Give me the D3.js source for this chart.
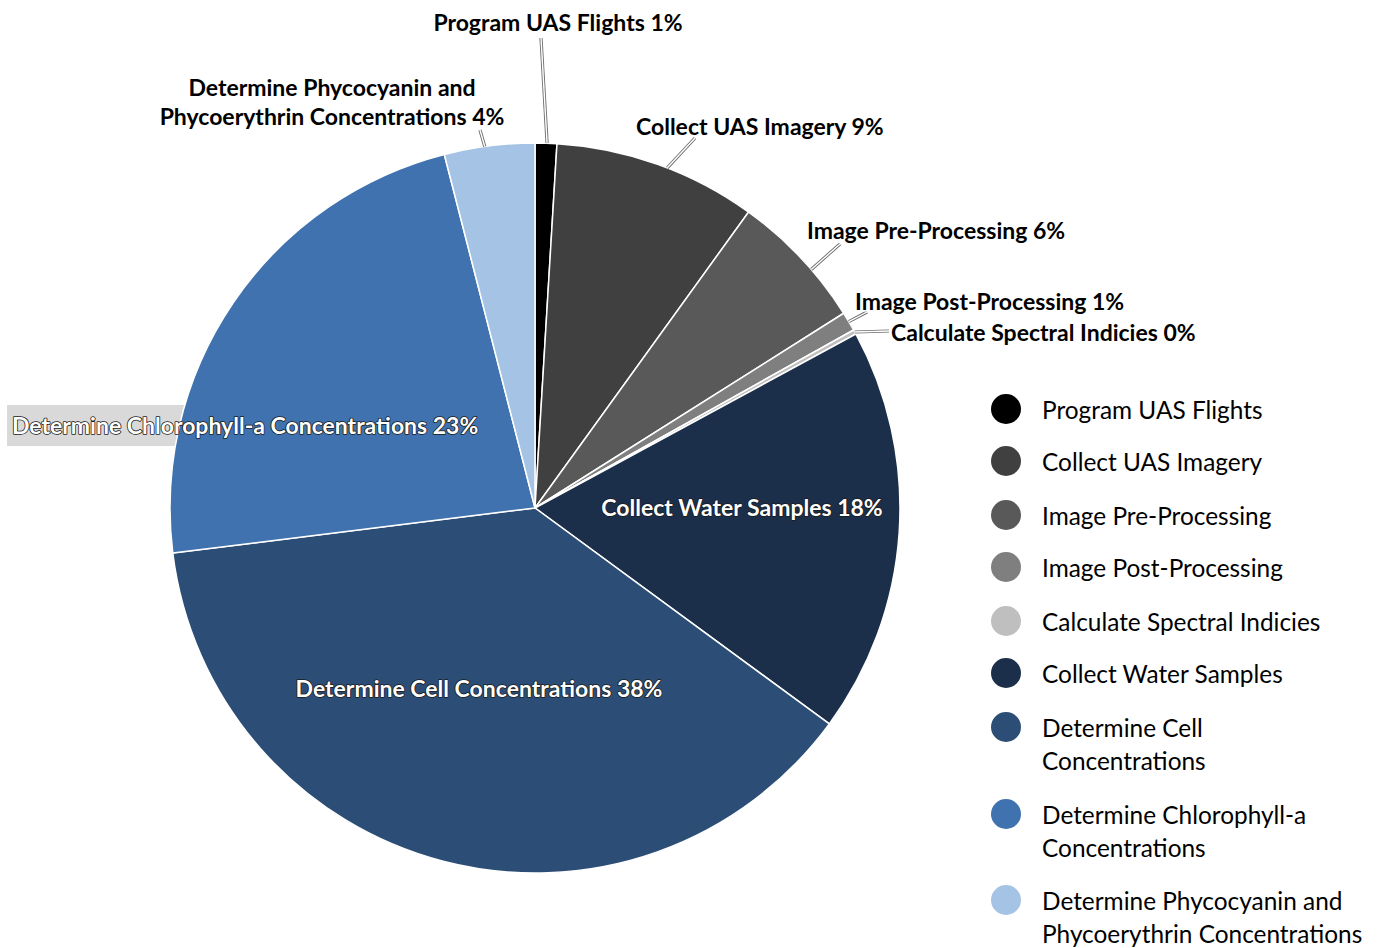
<!DOCTYPE html>
<html>
<head>
<meta charset="utf-8">
<script src="https://cdn.jsdelivr.net/npm/d3@7/dist/d3.min.js"></script>
<style>
  html, body { margin: 0; padding: 0; background: #fff; }
  svg { display: block; font-family: Lato, "Noto Sans", sans-serif; }
</style>
</head>
<body>
<svg id="chart" width="1377" height="948"></svg>
<script>
// Share of project effort by task
const categories = [
  "Program UAS Flights",
  "Collect UAS Imagery",
  "Image Pre-Processing",
  "Image Post-Processing",
  "Calculate Spectral Indicies",
  "Collect Water Samples",
  "Determine Cell Concentrations",
  "Determine Chlorophyll-a Concentrations",
  "Determine Phycocyanin and Phycoerythrin Concentrations"
];
const values = [0.96, 9.0, 6.1, 0.85, 0.2, 18.0, 38.0, 23.0, 4.0];
const colors = ["#000000", "#404040", "#595959", "#7f7f7f", "#bfbfbf",
                "#1c2f4a", "#2c4e76", "#3f72ae", "#a5c3e4"];
// legend text, broken into lines
const legendLines = [
  ["Program UAS Flights"],
  ["Collect UAS Imagery"],
  ["Image Pre-Processing"],
  ["Image Post-Processing"],
  ["Calculate Spectral Indicies"],
  ["Collect Water Samples"],
  ["Determine Cell", "Concentrations"],
  ["Determine Chlorophyll-a", "Concentrations"],
  ["Determine Phycocyanin and", "Phycoerythrin Concentrations"]
];
// data-label text lines (percent appended to last line)
const labelLines = [
  ["Program UAS Flights"],
  ["Collect UAS Imagery"],
  ["Image Pre-Processing"],
  ["Image Post-Processing"],
  ["Calculate Spectral Indicies"],
  ["Collect Water Samples"],
  ["Determine Cell Concentrations"],
  ["Determine Chlorophyll-a Concentrations"],
  ["Determine Phycocyanin and", "Phycoerythrin Concentrations"]
];

const svg = d3.select("#chart");
const cx = 535, cy = 508, R = 365;

const total = d3.sum(values);
const pct = d3.format(".0%");

const pie = d3.pie().sort(null).value(d => d)(values);
const arc = d3.arc().innerRadius(0).outerRadius(R);

// label placement: text position, anchor, leader end and where along the slice it starts
const labelLayout = [
  { x: 558, y: 31, anchor: "middle", inside: false, lead: [541, 38], at: 0.55 },
  { x: 636, y: 135, anchor: "start", inside: false, lead: [695, 138], at: 0.55 },
  { x: 807, y: 239, anchor: "start", inside: false, lead: [840, 244], at: 0.61 },
  { x: 855, y: 310, anchor: "start", inside: false, lead: [867, 312], at: 0.5 },
  { x: 891, y: 341, anchor: "start", inside: false, lead: [889, 331], at: 0.5 },
  { x: 742, y: 516, anchor: "middle", inside: true },
  { x: 479, y: 697, anchor: "middle", inside: true },
  { x: 12, y: 434, anchor: "start", inside: true },
  { x: 332, y: 96, anchor: "middle", inside: false, lead: [480, 130], at: 0.45, lh: 29 }
];

// grey band behind the chlorophyll-a label
svg.append("rect")
  .attr("x", 7).attr("y", 405).attr("width", 478).attr("height", 41)
  .attr("fill", "#d9d9d9");

const g = svg.append("g").attr("transform", `translate(${cx},${cy})`);

g.selectAll("path.slice")
  .data(pie)
  .join("path")
  .attr("class", "slice")
  .attr("d", arc)
  .attr("fill", (d, i) => colors[i])
  .attr("stroke", "#ffffff")
  .attr("stroke-width", 1.5)
  .attr("stroke-linejoin", "round");

// leader lines: grey outline with white core
pie.forEach((d, i) => {
  const L = labelLayout[i];
  if (!L.lead) return;
  const a = d.startAngle + (d.endAngle - d.startAngle) * L.at;
  const x0 = cx + R * Math.sin(a), y0 = cy - R * Math.cos(a);
  const pts = [[x0, y0], L.lead];
  const line = d3.line();
  svg.append("path").attr("d", line(pts)).attr("fill", "none")
    .attr("stroke", "#6e6e6e").attr("stroke-width", 3.2);
  svg.append("path").attr("d", line(pts)).attr("fill", "none")
    .attr("stroke", "#ffffff").attr("stroke-width", 1.4);
});

// data labels
pie.forEach((d, i) => {
  const L = labelLayout[i];
  const lines = labelLines[i].slice();
  lines[lines.length - 1] += " " + pct(d.value / total);
  const t = svg.append("text")
    .attr("x", L.x).attr("y", L.y)
    .attr("text-anchor", L.anchor)
    .attr("font-weight", 700)
    .attr("font-size", 23)
    .attr("fill", L.inside ? "#ffffff" : "#000000")
    .attr("stroke", L.inside ? "#1a1a1a" : "#ffffff")
    .attr("stroke-width", L.inside ? 1.6 : 3)
    .attr("paint-order", "stroke")
    .attr("stroke-linejoin", "round");
  lines.forEach((s, k) => {
    t.append("tspan").attr("x", L.x).attr("dy", k === 0 ? 0 : (L.lh || 29)).text(s);
  });
});

// legend
const legendY = [409, 461, 515, 567, 621, 673, 727, 814, 900];
const lg = svg.append("g");
legendY.forEach((y, i) => {
  lg.append("circle").attr("cx", 1006).attr("cy", y).attr("r", 15).attr("fill", colors[i]);
  const t = lg.append("text").attr("x", 1042).attr("y", y + 9.5)
    .attr("font-size", 24.4).attr("fill", "#000");
  legendLines[i].forEach((s, k) => {
    t.append("tspan").attr("x", 1042).attr("dy", k === 0 ? 0 : 33).text(s);
  });
});
</script>
</body>
</html>
